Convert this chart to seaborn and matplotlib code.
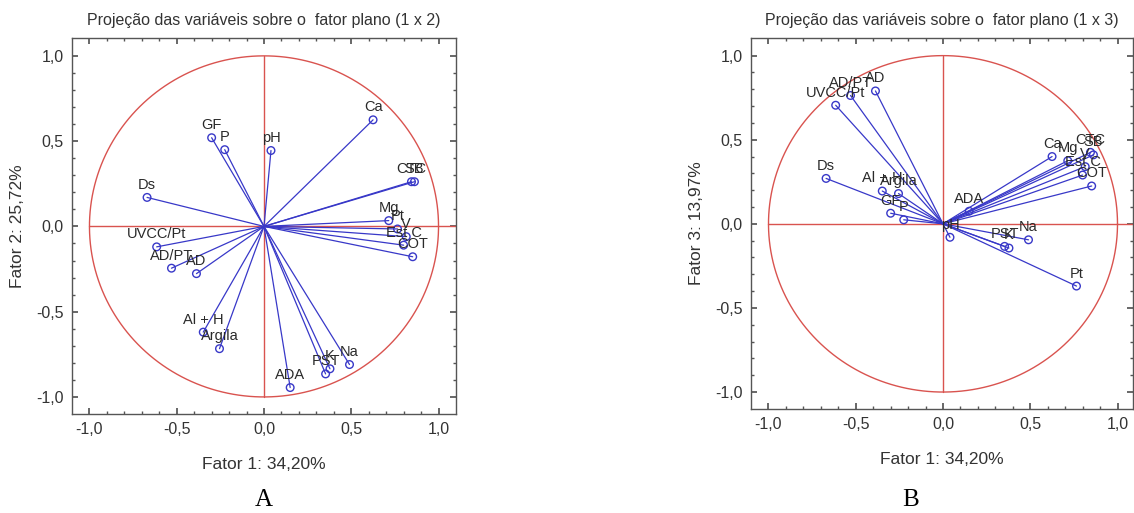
import numpy as np
import pandas as pd
import matplotlib
matplotlib.use('Agg')
import matplotlib.pyplot as plt
import seaborn as sns

# Coordenadas das variáveis nos fatores
variaveis = ['Ca', 'GF', 'P', 'pH', 'Ds', 'CTC', 'SB', 'Mg', 'Pt', 'Est C',
             'V', 'COT', 'UVCC/Pt', 'AD/PT', 'AD', 'Al + H', 'Argila',
             'ADA', 'PST', 'K', 'Na']
fator1 = [0.625, -0.30, -0.225, 0.04, -0.67, 0.845, 0.862, 0.715, 0.765, 0.80,
          0.815, 0.852, -0.615, -0.53, -0.387, -0.348, -0.255,
          0.15, 0.353, 0.378, 0.49]
fator2 = [0.625, 0.52, 0.45, 0.445, 0.17, 0.262, 0.262, 0.034, -0.015, -0.11,
          -0.06, -0.178, -0.12, -0.245, -0.277, -0.62, -0.717,
          -0.945, -0.865, -0.835, -0.81]
fator3 = [0.40, 0.063, 0.024, -0.08, 0.27, 0.425, 0.41, 0.375, -0.37, 0.29,
          0.34, 0.225, 0.705, 0.763, 0.79, 0.195, 0.18,
          0.075, -0.134, -0.144, -0.095]

titulos = ['Projeção das variáveis sobre o  fator plano (1 x 2)',
           'Projeção das variáveis sobre o  fator plano (1 x 3)']
rotulos_y = ['Fator 2: 25,72%', 'Fator 3: 13,97%']
rotulo_x = 'Fator 1: 34,20%'
letras = ['A', 'B']
ticks = [-1.0, -0.5, 0.0, 0.5, 1.0]
tick_labels = ['-1,0', '-0,5', '0,0', '0,5', '1,0']

sns.set_theme(style='ticks')
plt.rcParams['font.family'] = ['Liberation Sans', 'DejaVu Sans']

AZUL = '#3838c8'
VERMELHO = '#d9534f'
CINZA = '#333333'

df = pd.DataFrame({'var': variaveis, 'f1': fator1, 'f2': fator2, 'f3': fator3})

fig = plt.figure(figsize=(11.34, 5.13), dpi=100)
ax_a = fig.add_axes([0.0635, 0.193, 0.3386, 0.733])
ax_b = fig.add_axes([0.6623, 0.203, 0.337, 0.723])

for i, (ax, fy) in enumerate([(ax_a, 'f2'), (ax_b, 'f3')]):
    # círculo de correlação e eixos
    t = np.linspace(0, 2 * np.pi, 400)
    ax.plot(np.cos(t), np.sin(t), color=VERMELHO, lw=1.0, zorder=1)
    ax.plot([-1, 1.2], [0, 0], color=VERMELHO, lw=1.0, zorder=1)
    ax.plot([0, 0], [-1, 1], color=VERMELHO, lw=1.0, zorder=1)

    # segmentos da origem até cada variável
    seg = pd.concat([
        pd.DataFrame({'var': df['var'], 'x': 0.0, 'y': 0.0, 'ordem': 0}),
        pd.DataFrame({'var': df['var'], 'x': df['f1'], 'y': df[fy], 'ordem': 1}),
    ]).sort_values(['var', 'ordem'])
    sns.lineplot(data=seg, x='x', y='y', units='var', estimator=None, sort=False,
                 color=AZUL, lw=0.9, ax=ax, zorder=2)
    sns.scatterplot(data=df, x='f1', y=fy, marker='o', s=30, facecolors='none',
                    edgecolor=AZUL, linewidth=1.0, ax=ax, zorder=3)

    for _, r in df.iterrows():
        ax.annotate(r['var'], (r['f1'], r[fy]), xytext=(0, 4),
                    textcoords='offset points', ha='center', va='bottom',
                    fontsize=10.5, color='#2a2a2a', zorder=4)

    ax.set_xlim(-1.1, 1.1 if i == 0 else 1.09)
    ax.set_ylim(-1.1, 1.105)
    ax.set_xticks(ticks)
    ax.set_xticklabels(tick_labels)
    ax.set_yticks(ticks)
    ax.set_yticklabels(tick_labels)
    ax.set_xticks(np.arange(-1.0, 1.05, 0.1), minor=True)
    ax.set_yticks(np.arange(-1.0, 1.05, 0.1), minor=True)
    ax.tick_params(which='both', direction='in', top=True, right=True,
                   colors='#555555', labelcolor=CINZA, labelsize=11.5)
    ax.tick_params(which='major', length=4, pad=6)
    ax.tick_params(which='minor', length=2)
    for s in ax.spines.values():
        s.set_color('#555555')
        s.set_linewidth(1.0)

    ax.set_xlabel(rotulo_x, fontsize=12.5, color=CINZA, labelpad=14)
    ax.set_ylabel(rotulos_y[i], fontsize=12.5, color=CINZA, labelpad=8)
    ax.set_title(titulos[i], fontsize=11.5, color=CINZA, pad=9)

fig.text(0.233, 0.004, letras[0], fontsize=18, family='Liberation Serif',
         ha='center', va='bottom', color='black')
fig.text(0.803, 0.004, letras[1], fontsize=18, family='Liberation Serif',
         ha='center', va='bottom', color='black')

fig.savefig('out.png', dpi=100)
